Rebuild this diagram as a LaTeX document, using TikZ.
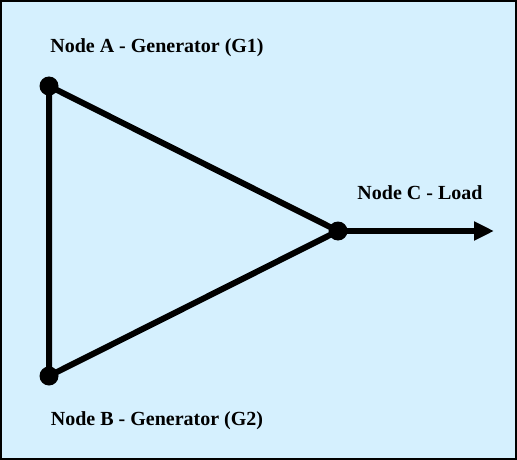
\documentclass[tikz,border=0pt]{standalone}
\usepackage{fontspec}
\setmainfont{Liberation Serif}
\usetikzlibrary{arrows.meta}
\definecolor{bgblue}{RGB}{213,240,254}
\begin{document}
\begin{tikzpicture}[x=1pt,y=-1pt,
  dot/.style={circle,fill=black,inner sep=0pt,minimum size=19pt},
  lbl/.style={font=\bfseries\fontsize{20}{24}\selectfont,inner sep=0pt},
  edge/.style={line width=6pt}]
\useasboundingbox (0,0) rectangle (517,460);
\draw[fill=bgblue,line width=2pt] (1,1) rectangle (516,459);
\node[dot] (A) at (49,86) {};
\node[dot] (B) at (49,376) {};
\node[dot] (C) at (338,231) {};
\coordinate (E) at (494,231);
\draw[edge] (A.center) -- (B.center) -- (C.center) -- cycle;
\draw[edge,-{Triangle[length=20pt,width=18pt]}] (C.center) -- (E);
\node[lbl] (la) at (157,48) {Node A - Generator (G1)};
\node[lbl] (lb) at (157,421) {Node B - Generator (G2)};
\node[lbl] (lc) at (420,193) {Node C - Load};
\end{tikzpicture}
\end{document}
